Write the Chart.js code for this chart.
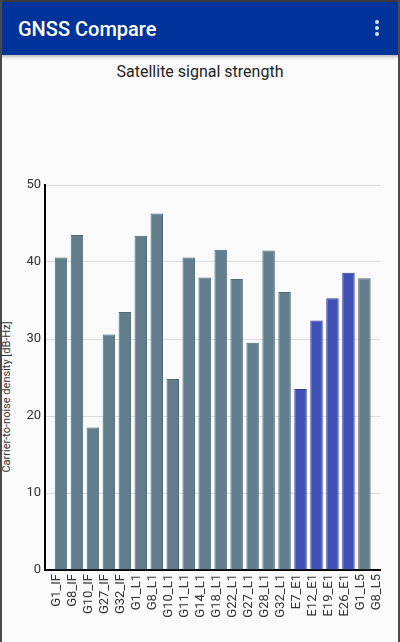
<!DOCTYPE html>
<html>
<head>
<meta charset="utf-8">
<script src="https://cdn.jsdelivr.net/npm/chart.js@4.4.1/dist/chart.umd.min.js"></script>
<style>
  body { margin: 0; width: 400px; height: 642px; background: #fafafa; font-family: Roboto, sans-serif; position: relative; overflow: hidden; }
  #frameTop { position: absolute; left: 0; top: 0; width: 400px; height: 2px; background: #3a3a3a; }
  .side { position: absolute; top: 0; width: 2px; height: 642px; background: #4a4a4a; }
  #appbar { position: absolute; left: 0; top: 2px; width: 400px; height: 53px; background: #003399; box-shadow: 0 2px 3px rgba(0,0,0,0.25); }
  #appbar h1 { margin: 0; position: absolute; left: 18px; top: 15px; font-size: 20px; font-weight: 500; line-height: 24px; color: #fff; }
  .dot { position: absolute; left: 375px; width: 4px; height: 4px; border-radius: 2px; background: #dfe3f2; }
  #title { position: absolute; left: 0; top: 62px; width: 400px; text-align: center; font-size: 16px; line-height: 20px; color: #222; }
  #ylabel { position: absolute; left: -93px; top: 390px; width: 200px; height: 14px; line-height: 14px; text-align: center; font-size: 11px; color: #333; transform: rotate(-90deg); }
  #wrap { position: absolute; left: 0; top: 150px; width: 400px; height: 492px; }
</style>
</head>
<body>
<div id="frameTop"></div>
<div id="appbar">
  <h1>GNSS Compare</h1>
  <div class="dot" style="top:18px"></div>
  <div class="dot" style="top:24px"></div>
  <div class="dot" style="top:30px"></div>
</div>
<div class="side" style="left:0"></div>
<div class="side" style="right:0"></div>
<div id="title">Satellite signal strength</div>
<div id="ylabel">Carrier-to-noise density [dB-Hz]</div>
<div id="wrap"><canvas id="snrChart"></canvas></div>
<script>
// Satellite signals (label per signal)
const categories = ["G1_IF", "G8_IF", "G10_IF", "G27_IF", "G32_IF",
  "G1_L1", "G8_L1", "G10_L1", "G11_L1", "G14_L1", "G18_L1", "G22_L1",
  "G27_L1", "G28_L1", "G32_L1", "E7_E1", "E12_E1", "E19_E1", "E26_E1",
  "G1_L5", "G8_L5"];

// C/N0 in dB-Hz
const cn0 = [40.6, 43.5, 18.5, 30.6, 33.5,
  43.4, 46.3, 24.8, 40.6, 38.0, 41.6, 37.8,
  29.5, 41.5, 36.1, 23.5, 32.4, 35.3, 38.6,
  37.9, 0];

const yTicks = [0, 10, 20, 30, 40, 50];

const isGalileo = categories.map(c => c.startsWith("E"));

new Chart(document.getElementById("snrChart"), {
  type: "bar",
  data: {
    datasets: [{
      data: cn0.map((v, i) => ({ x: i, y: v })),
      backgroundColor: isGalileo.map(g => g ? "#3f51b5" : "#607d8b"),
      borderColor: isGalileo.map(g => g ? "#2b3a99" : "#4e6774"),
      borderWidth: 1,
      borderSkipped: "start",
      barPercentage: 0.78,
      categoryPercentage: 1
    }]
  },
  options: {
    responsive: true,
    maintainAspectRatio: false,
    animation: false,
    layout: { padding: { top: 35, right: 12, left: 0, bottom: 0 } },
    plugins: { legend: { display: false }, tooltip: { enabled: false } },
    scales: {
      x: {
        type: "linear",
        offset: false,
        min: -1,
        max: categories.length - 1,
        grid: { display: false, drawTicks: false, offset: false },
        border: { color: "#000", width: 2 },
        ticks: {
          stepSize: 1,
          autoSkip: false,
          minRotation: 90,
          maxRotation: 90,
          padding: 4,
          labelOffset: -4,
          color: "#333",
          font: { family: "Roboto", size: 13 },
          callback: v => categories[v] || ""
        },
        afterFit: s => { s.height = 72; }
      },
      y: {
        min: yTicks[0],
        max: yTicks[yTicks.length - 1],
        grid: { color: "#dcdcdc", drawTicks: false },
        border: { color: "#000", width: 2 },
        ticks: {
          stepSize: yTicks[1] - yTicks[0],
          padding: 4,
          color: "#333",
          font: { family: "Roboto", size: 13 }
        },
        afterFit: s => { s.width = 45; }
      }
    }
  }
});
</script>
</body>
</html>
